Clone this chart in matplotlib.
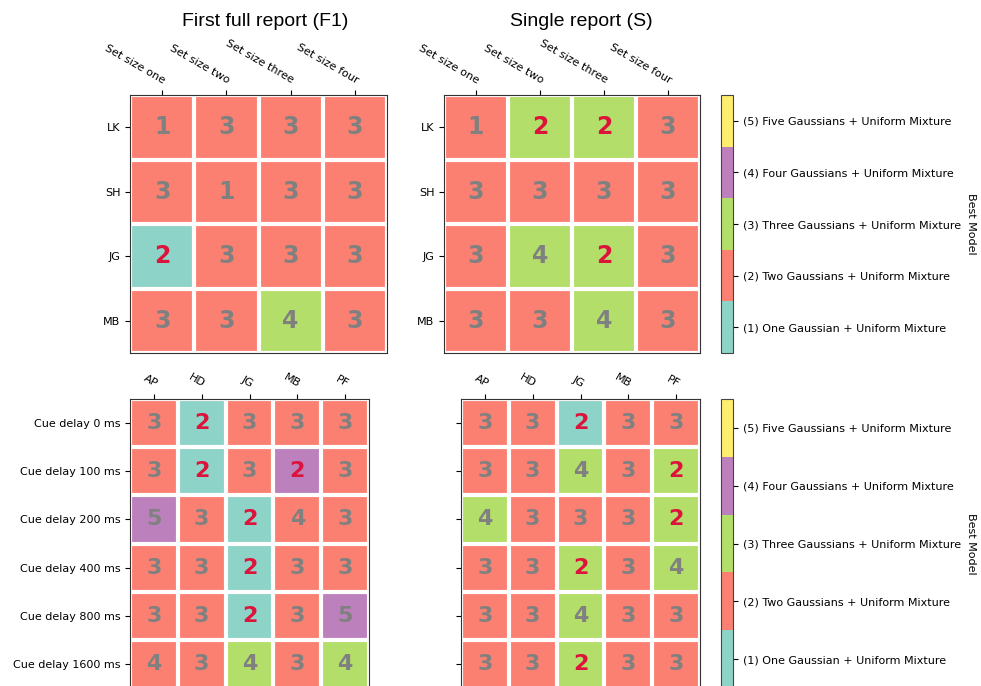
import numpy as np
import matplotlib
matplotlib.use("Agg")
import matplotlib.pyplot as plt
from matplotlib.colors import ListedColormap, BoundaryNorm
from matplotlib.ticker import NullLocator

# ---- data -------------------------------------------------------------
set_sizes = ["Set size one", "Set size two", "Set size three", "Set size four"]
subjects_set = ["LK", "SH", "JG", "MB"]
cue_delays = ["Cue delay 0 ms", "Cue delay 100 ms", "Cue delay 200 ms",
              "Cue delay 400 ms", "Cue delay 800 ms", "Cue delay 1600 ms"]
subjects_cue = ["AP", "HD", "JG", "MB", "PF"]

model_labels = ["(1) One Gaussian + Uniform Mixture",
                "(2) Two Gaussians + Uniform Mixture",
                "(3) Three Gaussians + Uniform Mixture",
                "(4) Four Gaussians + Uniform Mixture",
                "(5) Five Gaussians + Uniform Mixture"]

# best model (cell colour) and annotated count, set-size experiment
best_set_f1 = [[2, 2, 2, 2],
               [2, 2, 2, 2],
               [1, 2, 2, 2],
               [2, 2, 3, 2]]
count_set_f1 = [[1, 3, 3, 3],
                [3, 1, 3, 3],
                [2, 3, 3, 3],
                [3, 3, 4, 3]]
best_set_s = [[2, 3, 3, 2],
              [2, 2, 2, 2],
              [2, 3, 3, 2],
              [2, 2, 3, 2]]
count_set_s = [[1, 2, 2, 3],
               [3, 3, 3, 3],
               [3, 4, 2, 3],
               [3, 3, 4, 3]]

# best model and annotated count, cue-delay experiment
best_cue_f1 = [[2, 1, 2, 2, 2],
               [2, 1, 2, 4, 2],
               [4, 2, 1, 2, 2],
               [2, 2, 1, 2, 2],
               [2, 2, 1, 2, 4],
               [2, 2, 3, 2, 3]]
count_cue_f1 = [[3, 2, 3, 3, 3],
                [3, 2, 3, 2, 3],
                [5, 3, 2, 4, 3],
                [3, 3, 2, 3, 3],
                [3, 3, 2, 3, 5],
                [4, 3, 4, 3, 4]]
best_cue_s = [[2, 2, 1, 2, 2],
              [2, 2, 3, 2, 3],
              [3, 2, 2, 2, 3],
              [2, 2, 3, 2, 3],
              [2, 2, 3, 2, 2],
              [2, 2, 3, 2, 2]]
count_cue_s = [[3, 3, 2, 3, 3],
               [3, 3, 4, 3, 2],
               [4, 3, 3, 3, 2],
               [3, 3, 2, 3, 4],
               [3, 3, 4, 3, 3],
               [3, 3, 2, 3, 3]]

# ---- styling ------------------------------------------------------------
cmap = ListedColormap(["#8dd3c7", "#fb8072", "#b3de69", "#bc80bd", "#ffed6f"])
norm = BoundaryNorm(np.arange(0.5, 6.5, 1.0), cmap.N)

W, H = 981, 686
fig = plt.figure(figsize=(W / 100, H / 100), dpi=100)


def px_axes(x0, y0, x1, y1):
    """Axes from pixel box (top-left origin)."""
    return fig.add_axes([x0 / W, 1 - y1 / H, (x1 - x0) / W, (y1 - y0) / H])


def heatmap(ax, best, counts, rows, cols, show_ylabels, fsize):
    data = np.array(best)
    im = ax.imshow(data, cmap=cmap, norm=norm, aspect="auto")
    ax.set_xticks(np.arange(data.shape[1]), labels=cols)
    ax.set_yticks(np.arange(data.shape[0]),
                  labels=rows if show_ylabels else [""] * len(rows))
    ax.tick_params(top=True, bottom=False, labeltop=True, labelbottom=False,
                   labelsize=8)
    plt.setp(ax.get_xticklabels(), rotation=-30, ha="right",
             rotation_mode="anchor")
    ax.set_xticks(np.arange(data.shape[1] + 1) - .5, minor=True)
    ax.set_yticks(np.arange(data.shape[0] + 1) - .5, minor=True)
    ax.grid(which="minor", color="w", linestyle="-", linewidth=3)
    ax.tick_params(which="minor", bottom=False, left=False, top=False)
    for sp in ax.spines.values():
        sp.set_edgecolor("#333333")
    for i in range(data.shape[0]):
        for j in range(data.shape[1]):
            v = counts[i][j]
            ax.text(j, i, str(v), ha="center", va="center",
                    color="#dc143c" if v == 2 else "gray",
                    fontsize=fsize, fontweight="bold")
    return im


def colorbar(im, cax):
    cb = fig.colorbar(im, cax=cax, ticks=[1, 2, 3, 4, 5])
    cb.ax.set_yticklabels(model_labels)
    cb.ax.yaxis.set_minor_locator(NullLocator())
    cb.ax.tick_params(labelsize=8)
    cb.outline.set_edgecolor("#444444")
    cb.ax.set_ylabel("Best Model", rotation=-90, va="bottom", fontsize=8)
    return cb


ax1 = px_axes(130, 95, 387, 353)
ax2 = px_axes(444, 95, 700, 353)
ax3 = px_axes(130, 399, 369, 688)
ax4 = px_axes(461, 399, 700, 688)
cax1 = px_axes(721, 95, 733, 353)
cax2 = px_axes(721, 399, 733, 688)

heatmap(ax1, best_set_f1, count_set_f1, subjects_set, set_sizes, True, 17)
im2 = heatmap(ax2, best_set_s, count_set_s, subjects_set, set_sizes, True, 17)
heatmap(ax3, best_cue_f1, count_cue_f1, cue_delays, subjects_cue, True, 16)
im4 = heatmap(ax4, best_cue_s, count_cue_s, cue_delays, subjects_cue, False, 16)

colorbar(im2, cax1)
colorbar(im4, cax2)

fig.text(265 / W, 1 - 21 / H, "First full report (F1)", ha="center",
         va="center", fontsize=14, family="Liberation Sans")
fig.text(581 / W, 1 - 21 / H, "Single report (S)", ha="center",
         va="center", fontsize=14, family="Liberation Sans")

fig.savefig("out.png", dpi=100)
